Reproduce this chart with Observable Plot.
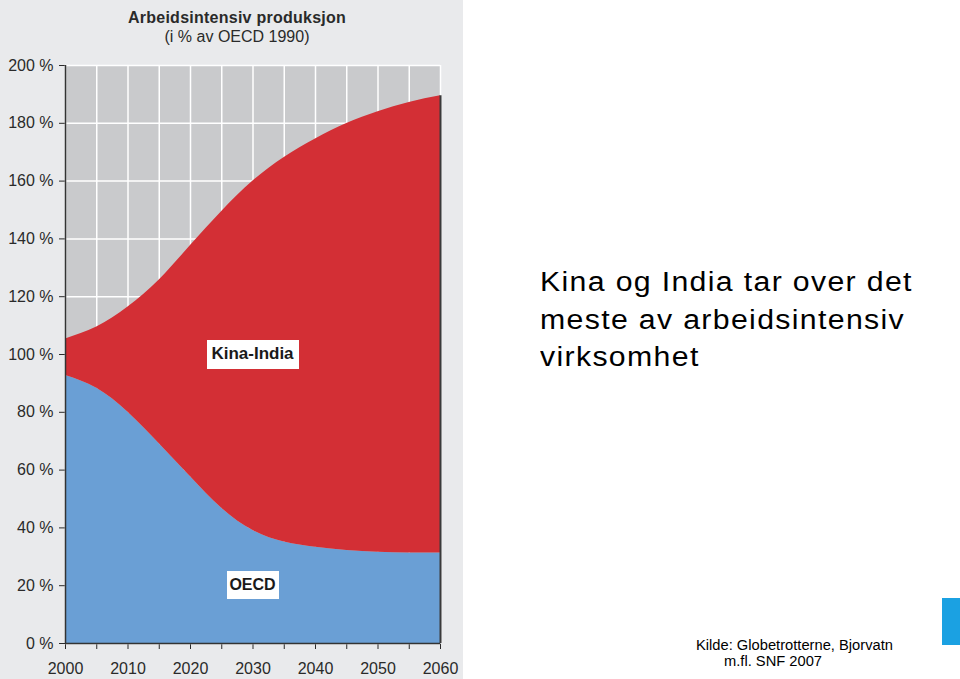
<!DOCTYPE html>
<html>
<head>
<meta charset="utf-8">
<script src="https://cdn.jsdelivr.net/npm/d3@7"></script>
<script src="https://cdn.jsdelivr.net/npm/@observablehq/plot@0.6"></script>
<style>
  html, body { margin: 0; padding: 0; background: #ffffff; }
  #wrap { position: relative; width: 960px; height: 679px; overflow: hidden; background: #ffffff; font-family: "Liberation Sans", Arial, sans-serif; }
  #panel { position: absolute; left: 0; top: 0; width: 463px; height: 679px; background: #e9eaec; }
  #chart { position: absolute; left: 0; top: 0; }
  .t { position: absolute; white-space: nowrap; color: #222; }
  .lbl { position: absolute; background: #ffffff; display: flex; align-items: center; justify-content: center; font-weight: bold; color: #1a1a1a; font-size: 17px; }
</style>
</head>
<body>
<div id="wrap">
  <div id="panel"></div>
  <div class="t" style="left:0;width:474px;text-align:center;top:9.8px;font-size:16px;line-height:16px;font-weight:bold;letter-spacing:0.25px;color:#2a2a2a;">Arbeidsintensiv produksjon</div>
  <div class="t" style="left:0;width:474px;text-align:center;top:29.2px;font-size:16px;line-height:16px;color:#2a2a2a;">(i % av OECD 1990)</div>
  <div id="chart"></div>
  <div class="t" id="h1" style="left:540px;top:264px;font-size:27px;line-height:37.7px;letter-spacing:1.2px;transform:scaleX(1.12);transform-origin:left top;color:#000;">Kina og India tar over det<br>meste av arbeidsintensiv<br>virksomhet</div>
  <div class="t" style="left:696px;top:637px;font-size:14px;line-height:16px;transform:scaleX(1.05);transform-origin:left top;color:#000;">Kilde: Globetrotterne, Bjorvatn</div>
  <div class="t" style="left:724px;top:653px;font-size:14px;line-height:16px;transform:scaleX(1.05);transform-origin:left top;color:#000;">m.fl. SNF 2007</div>
  <div style="position:absolute;left:942px;top:598px;width:18px;height:47px;background:#1ba1e2;"></div>
</div>
<script>
// ---- data ----
const years = [2000, 2005, 2010, 2015, 2020, 2025, 2030, 2035, 2040, 2045, 2050, 2055, 2060];
const oecd = [92.7, 88.3, 80.0, 69.1, 57.7, 46.8, 39.1, 35.1, 33.3, 32.2, 31.6, 31.3, 31.3];
const kinaIndia = [12.7, 21.2, 36.4, 56.7, 80.0, 102.7, 120.9, 133.1, 141.3, 147.7, 152.4, 155.9, 158.2];
const seriesNames = ["OECD", "Kina-India"];
const seriesColors = ["#6a9fd5", "#d32f35"];
const xTickValues = [2000, 2010, 2020, 2030, 2040, 2050, 2060];
const yTickValues = [0, 20, 40, 60, 80, 100, 120, 140, 160, 180, 200];
const labelSpots = [
  {name: "Kina-India", year: 2030, value: 100, w: 92, h: 29, size: 17},
  {name: "OECD", year: 2030, value: 20, w: 52, h: 28, size: 16}
];

const rows = [];
seriesNames.forEach((s, si) => {
  const vals = si === 0 ? oecd : kinaIndia;
  years.forEach((y, i) => rows.push({year: y, value: vals[i], series: s}));
});
const last = years.length - 1;
const edge = [{year: years[last], total: oecd[last] + kinaIndia[last]}];

const chart = Plot.plot({
  width: 960,
  height: 679,
  marginLeft: 65,
  marginRight: 520,
  marginTop: 65,
  marginBottom: 36,
  style: {background: "transparent", fontFamily: "Liberation Sans, Arial, sans-serif", fontSize: "16px", color: "#2a2a2a"},
  x: {domain: [2000, 2060], ticks: years, tickFormat: d => xTickValues.includes(d) ? String(d) : "", tickSize: 6, tickPadding: 13, label: null},
  y: {domain: [0, 200], ticks: yTickValues, tickFormat: d => d + " %", tickSize: 6, tickPadding: 6, label: null},
  color: {domain: seriesNames, range: seriesColors},
  marks: [
    Plot.frame({fill: "#c9cacc", stroke: "#b0b1b3"}),
    Plot.gridX(years, {stroke: "#ffffff", strokeOpacity: 1, strokeWidth: 1.5}),
    Plot.gridY(yTickValues, {stroke: "#ffffff", strokeOpacity: 1, strokeWidth: 1.5}),
    Plot.areaY(rows, {x: "year", y: "value", fill: "series", curve: "natural"}),
    Plot.ruleX(edge, {x: "year", y1: 0, y2: "total", stroke: "#3a3a3a", strokeWidth: 2}),
    Plot.ruleX([2000], {stroke: "#333", strokeWidth: 1.5}),
    Plot.ruleY([0], {stroke: "#333", strokeWidth: 1.5})
  ]
});
document.getElementById("chart").appendChild(chart);

const sx = chart.scale("x"), sy = chart.scale("y");
const wrap = document.getElementById("wrap");
labelSpots.forEach(l => {
  const d = document.createElement("div");
  d.className = "lbl";
  d.textContent = l.name;
  const cx = sx.apply(l.year), cy = sy.apply(l.value);
  d.style.left = (cx - l.w / 2) + "px";
  d.style.top = (cy - l.h / 2) + "px";
  d.style.width = l.w + "px";
  d.style.height = l.h + "px";
  d.style.fontSize = l.size + "px";
  wrap.appendChild(d);
});
</script>
</body>
</html>
